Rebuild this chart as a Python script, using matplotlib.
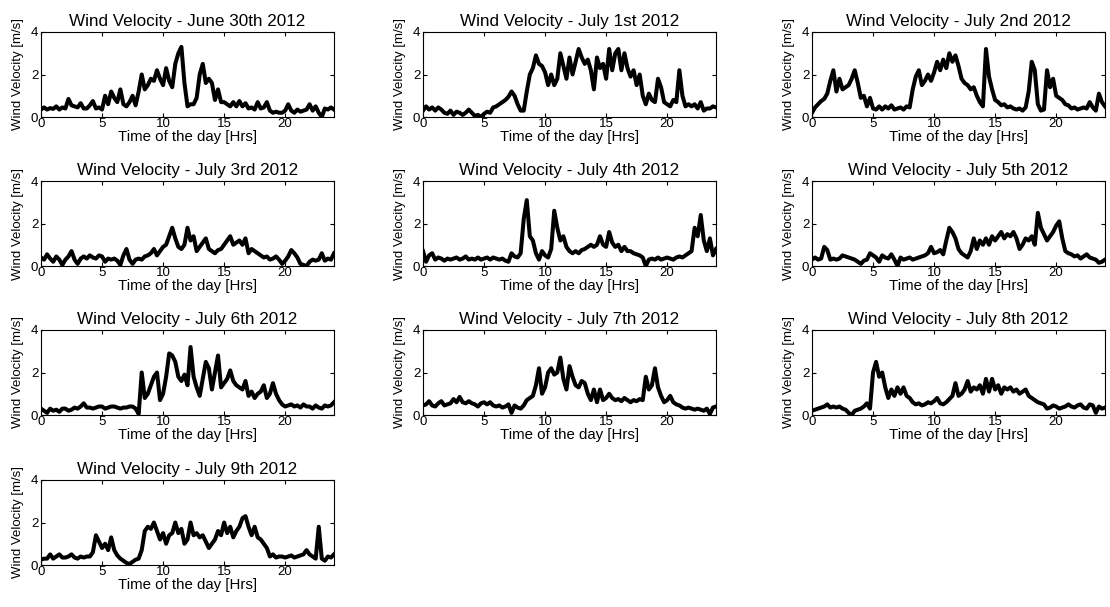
import numpy as np
import matplotlib
matplotlib.use("Agg")
import matplotlib.pyplot as plt

plt.rcParams.update({"font.family": ["Liberation Sans", "DejaVu Sans"],
                     "xtick.direction": "in", "ytick.direction": "in",
                     "xtick.top": True, "ytick.right": True,
                     "xtick.major.size": 3, "ytick.major.size": 3})

# 15-minute samples, 0..24 h
hours = np.linspace(0, 24, 97)

june30 = [0.35, 0.45, 0.35, 0.42, 0.38, 0.5, 0.35, 0.45, 0.4, 0.85, 0.55, 0.5, 0.45, 0.65, 0.4, 0.4,
          0.55, 0.75, 0.4, 0.45, 0.35, 1.0, 0.6, 1.2, 0.9, 0.7, 1.3, 0.6, 0.5, 0.7, 1.0, 0.55,
          1.2, 2.0, 1.3, 1.5, 1.8, 1.7, 2.2, 1.8, 1.5, 2.3, 1.7, 1.4, 2.5, 3.0, 3.3, 1.6,
          0.5, 0.6, 0.6, 0.9, 2.0, 2.5, 1.6, 1.8, 1.6, 0.8, 1.3, 0.7, 0.7, 0.6, 0.5, 0.7,
          0.5, 0.75, 0.5, 0.65, 0.4, 0.45, 0.35, 0.7, 0.4, 0.45, 0.7, 0.3, 0.2, 0.25, 0.2, 0.2,
          0.3, 0.6, 0.3, 0.2, 0.35, 0.25, 0.3, 0.35, 0.6, 0.3, 0.5, 0.2, 0.0, 0.4, 0.35, 0.45, 0.35]
july1 = [0.3, 0.5, 0.35, 0.45, 0.3, 0.45, 0.35, 0.2, 0.15, 0.3, 0.1, 0.25, 0.2, 0.1, 0.2, 0.35,
         0.2, 0.05, 0.1, 0.0, 0.15, 0.25, 0.2, 0.45, 0.5, 0.6, 0.7, 0.8, 0.95, 1.2, 1.0, 0.6,
         0.3, 0.3, 1.2, 2.0, 2.3, 2.9, 2.5, 2.4, 2.1, 1.5, 2.0, 1.5, 1.8, 3.0, 2.4, 1.8,
         2.8, 2.0, 2.6, 3.2, 2.8, 2.5, 2.7, 2.2, 1.3, 2.8, 2.3, 2.5, 1.8, 3.2, 2.2, 3.0,
         3.2, 2.2, 3.0, 2.3, 1.9, 2.2, 1.5, 2.0, 1.0, 0.6, 1.1, 0.8, 0.7, 1.8, 1.4, 0.7,
         0.6, 0.5, 0.8, 0.7, 2.2, 1.0, 0.5, 0.6, 0.5, 0.6, 0.4, 0.7, 0.3, 0.4, 0.4, 0.5, 0.45]
july2 = [0.2, 0.45, 0.6, 0.75, 0.85, 1.1, 1.7, 2.2, 1.2, 1.8, 1.3, 1.4, 1.5, 1.8, 2.2, 1.6,
         0.9, 1.0, 0.5, 0.9, 0.4, 0.35, 0.5, 0.35, 0.5, 0.4, 0.55, 0.35, 0.4, 0.45, 0.35, 0.5,
         0.45, 1.3, 1.9, 2.2, 1.5, 1.7, 2.0, 1.7, 2.1, 2.6, 2.2, 2.7, 2.3, 3.0, 2.6, 2.9,
         2.4, 1.8, 1.6, 1.5, 1.3, 1.4, 1.0, 0.7, 0.5, 3.2, 1.9, 1.3, 0.8, 0.7, 0.55, 0.6,
         0.45, 0.5, 0.4, 0.35, 0.4, 0.3, 0.45, 1.2, 2.6, 2.2, 0.6, 0.3, 0.35, 2.2, 1.4, 1.8,
         1.0, 0.9, 0.8, 0.6, 0.55, 0.4, 0.45, 0.35, 0.4, 0.45, 0.4, 0.7, 0.45, 0.3, 1.1, 0.7, 0.5]
july3 = [0.4, 0.3, 0.55, 0.35, 0.2, 0.45, 0.3, 0.05, 0.3, 0.45, 0.7, 0.3, 0.1, 0.35, 0.45, 0.35,
         0.5, 0.4, 0.35, 0.5, 0.45, 0.2, 0.35, 0.3, 0.35, 0.25, 0.05, 0.5, 0.8, 0.3, 0.1, 0.3,
         0.35, 0.3, 0.45, 0.5, 0.6, 0.8, 0.5, 0.7, 0.9, 1.0, 1.4, 1.8, 1.3, 0.9, 0.8, 1.0,
         1.8, 1.2, 1.4, 0.7, 0.9, 1.1, 1.3, 0.8, 0.7, 0.6, 0.75, 0.8, 1.0, 1.2, 1.4, 1.0,
         1.1, 1.2, 1.0, 1.3, 0.6, 0.8, 0.7, 0.6, 0.5, 0.4, 0.45, 0.3, 0.35, 0.45, 0.3, 0.1,
         0.25, 0.45, 0.75, 0.6, 0.4, 0.1, 0.05, 0.0, 0.2, 0.3, 0.25, 0.3, 0.6, 0.25, 0.35, 0.3, 0.6]
july4 = [0.7, 0.2, 0.5, 0.6, 0.3, 0.4, 0.35, 0.25, 0.35, 0.3, 0.35, 0.4, 0.3, 0.35, 0.45, 0.3,
         0.35, 0.3, 0.4, 0.3, 0.35, 0.4, 0.3, 0.4, 0.35, 0.3, 0.35, 0.25, 0.2, 0.6, 0.45, 0.4,
         0.6, 2.2, 3.1, 1.4, 1.2, 0.6, 0.3, 0.7, 0.5, 0.4, 0.8, 2.6, 1.8, 1.2, 1.4, 0.9,
         0.7, 0.6, 0.7, 0.6, 0.75, 0.8, 0.9, 1.0, 0.9, 1.0, 1.4, 1.0, 0.9, 1.6, 1.1, 0.9,
         1.0, 0.7, 0.9, 0.7, 0.7, 0.6, 0.55, 0.5, 0.4, 0.0, 0.3, 0.35, 0.3, 0.4, 0.3, 0.35,
         0.4, 0.35, 0.3, 0.4, 0.45, 0.4, 0.5, 0.6, 0.7, 1.8, 1.4, 2.4, 1.2, 0.7, 1.3, 0.5, 0.8]
july5 = [0.3, 0.4, 0.3, 0.35, 0.9, 0.75, 0.3, 0.35, 0.3, 0.35, 0.5, 0.45, 0.4, 0.35, 0.3, 0.2,
         0.1, 0.25, 0.3, 0.6, 0.5, 0.4, 0.2, 0.5, 0.4, 0.35, 0.55, 0.3, 0.0, 0.4, 0.3, 0.35,
         0.4, 0.3, 0.35, 0.4, 0.45, 0.5, 0.6, 0.9, 0.6, 0.65, 0.75, 0.55, 1.2, 1.8, 1.6, 1.3,
         0.8, 0.6, 0.5, 0.4, 0.7, 1.3, 0.8, 1.2, 1.0, 1.3, 1.0, 1.4, 1.2, 1.4, 1.6, 1.3,
         1.5, 1.4, 1.6, 1.3, 0.8, 1.0, 1.3, 1.2, 1.4, 1.0, 2.5, 1.8, 1.5, 1.2, 1.4, 1.6,
         1.9, 2.1, 1.3, 0.7, 0.6, 0.55, 0.45, 0.5, 0.35, 0.45, 0.55, 0.4, 0.35, 0.3, 0.15, 0.2, 0.3]
july6 = [0.3, 0.2, 0.1, 0.3, 0.2, 0.25, 0.15, 0.3, 0.3, 0.2, 0.25, 0.35, 0.3, 0.4, 0.55, 0.35,
         0.35, 0.3, 0.35, 0.4, 0.4, 0.3, 0.35, 0.4, 0.4, 0.35, 0.3, 0.35, 0.35, 0.4, 0.4, 0.3,
         0.05, 2.0, 0.8, 1.0, 1.4, 1.8, 2.0, 0.7, 1.0, 1.8, 2.9, 2.8, 2.5, 1.8, 1.6, 1.9,
         1.4, 3.2, 1.8, 1.3, 0.9, 1.7, 2.5, 2.2, 1.2, 2.0, 2.8, 1.3, 1.5, 1.7, 2.1, 1.6,
         1.4, 1.3, 1.2, 1.6, 0.9, 1.1, 0.8, 1.0, 1.1, 1.4, 0.8, 1.0, 1.5, 1.0, 0.7, 0.5,
         0.4, 0.45, 0.5, 0.4, 0.45, 0.35, 0.5, 0.4, 0.4, 0.3, 0.45, 0.35, 0.3, 0.45, 0.4, 0.45, 0.6]
july7 = [0.45, 0.5, 0.65, 0.45, 0.4, 0.55, 0.65, 0.45, 0.5, 0.55, 0.75, 0.6, 0.85, 0.6, 0.55, 0.65,
         0.55, 0.5, 0.4, 0.55, 0.6, 0.5, 0.6, 0.45, 0.4, 0.45, 0.35, 0.4, 0.5, 0.1, 0.45, 0.35,
         0.3, 0.45, 0.7, 0.8, 0.9, 1.4, 2.2, 1.0, 1.3, 2.0, 2.2, 1.9, 2.0, 2.7, 1.7, 1.2,
         2.3, 1.8, 1.4, 1.3, 1.6, 1.5, 1.0, 0.7, 1.2, 0.6, 1.2, 0.7, 0.8, 1.0, 0.8, 0.7,
         0.75, 0.65, 0.8, 0.7, 0.6, 0.7, 0.65, 0.75, 0.7, 1.8, 1.2, 1.4, 2.2, 1.3, 0.9, 0.6,
         0.7, 0.9, 0.6, 0.5, 0.45, 0.35, 0.3, 0.35, 0.3, 0.25, 0.3, 0.25, 0.2, 0.3, 0.05, 0.35, 0.4]
july8 = [0.2, 0.25, 0.3, 0.35, 0.4, 0.5, 0.35, 0.4, 0.35, 0.4, 0.3, 0.25, 0.1, 0.0, 0.2, 0.25,
         0.3, 0.4, 0.55, 0.3, 2.0, 2.5, 1.8, 2.0, 1.3, 0.8, 1.2, 0.9, 1.3, 1.0, 1.3, 0.9,
         0.8, 0.6, 0.5, 0.55, 0.45, 0.5, 0.6, 0.55, 0.65, 0.8, 0.55, 0.5, 0.6, 0.75, 0.9, 1.5,
         0.9, 1.0, 1.2, 1.6, 1.1, 1.3, 1.2, 1.4, 1.0, 1.7, 1.1, 1.7, 1.2, 1.4, 1.0, 1.3,
         1.2, 1.3, 1.1, 1.2, 1.0, 1.1, 1.2, 0.9, 0.8, 0.7, 0.6, 0.55, 0.5, 0.3, 0.35, 0.45,
         0.4, 0.3, 0.35, 0.4, 0.5, 0.4, 0.35, 0.45, 0.5, 0.35, 0.3, 0.5, 0.45, 0.1, 0.4, 0.3, 0.35]
july9 = [0.25, 0.3, 0.3, 0.5, 0.3, 0.4, 0.5, 0.35, 0.35, 0.4, 0.5, 0.35, 0.3, 0.4, 0.35, 0.4,
         0.4, 0.6, 1.4, 1.1, 0.8, 1.0, 0.7, 1.3, 0.7, 0.45, 0.3, 0.2, 0.1, 0.05, 0.15, 0.25,
         0.3, 0.7, 1.6, 1.8, 1.7, 2.0, 1.6, 1.2, 1.5, 1.0, 1.4, 1.5, 2.0, 1.5, 1.7, 1.0,
         1.2, 2.0, 1.4, 1.5, 1.3, 1.4, 1.1, 0.8, 1.0, 1.2, 1.6, 1.4, 2.0, 1.5, 1.8, 1.3,
         1.6, 1.8, 2.2, 2.3, 1.8, 1.4, 1.8, 1.3, 1.2, 1.0, 0.8, 0.4, 0.5, 0.35, 0.4, 0.4,
         0.35, 0.4, 0.45, 0.35, 0.4, 0.45, 0.5, 0.7, 0.5, 0.4, 0.3, 1.8, 0.3, 0.2, 0.4, 0.35, 0.5]

days = ["June 30th", "July 1st", "July 2nd", "July 3rd", "July 4th",
        "July 5th", "July 6th", "July 7th", "July 8th", "July 9th"]
series = [june30, july1, july2, july3, july4, july5, july6, july7, july8, july9]

W, H = 1110, 607
fig = plt.figure(figsize=(W / 100, H / 100), dpi=100)
col_left = [41, 423, 812]
row_top = [32, 181, 330, 480]
aw, ah = 293, 85

for i, (day, v) in enumerate(zip(days, series)):
    r, c = divmod(i, 3)
    ax = fig.add_axes([col_left[c] / W, 1 - (row_top[r] + ah) / H, aw / W, ah / H])
    ax.plot(hours, v, color="black", lw=2.9)
    ax.set_xlim(0, 24); ax.set_ylim(0, 4)
    ax.set_xticks([0, 5, 10, 15, 20]); ax.set_yticks([0, 2, 4])
    ax.tick_params(axis="x", labelsize=9.5, pad=1)
    ax.tick_params(axis="y", labelsize=9.5, pad=2)
    ax.set_title(f"Wind Velocity - {day} 2012", fontsize=12.3, pad=4)
    ax.set_xlabel("Time of the day [Hrs]", fontsize=10.8, labelpad=0)
    ax.set_ylabel("Wind Velocity [m/s]", fontsize=9.5, labelpad=5)

fig.savefig("out.png", dpi=100)
